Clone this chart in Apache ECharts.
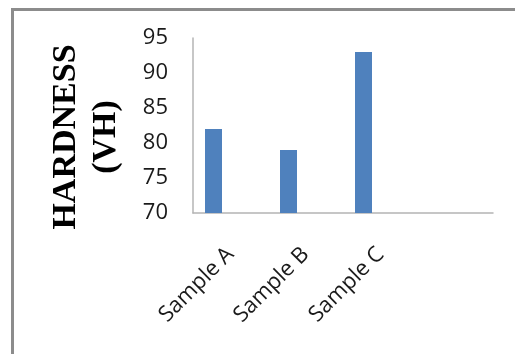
<!DOCTYPE html>
<html>
<head>
<meta charset="utf-8">
<script src="https://cdn.jsdelivr.net/npm/echarts@6/dist/echarts.min.js"></script>
<style>
  html, body { margin: 0; padding: 0; background: #ffffff; }
  #chart { width: 515px; height: 354px; }
</style>
</head>
<body>
<div id="chart"></div>
<script>
// Hardness measurements per sample (Vickers)
const categories = ['Sample A', 'Sample B', 'Sample C', ''];
const hardness = [82, 79, 93, null];
// Two further series slots in the cluster carry no values
const emptySeriesA = [null, null, null, null];
const emptySeriesB = [null, null, null, null];
const yTicks = { min: 70, max: 95, interval: 5 };

const chart = echarts.init(document.getElementById('chart'), null, { renderer: 'canvas' });

const barStyle = { color: '#4F81BD' };

chart.setOption({
  backgroundColor: '#ffffff',
  animation: false,
  grid: { left: 193, right: 22, top: 38, bottom: 141, containLabel: false },
  xAxis: {
    type: 'category',
    data: categories,
    axisLine: { show: true, lineStyle: { color: '#b4b4b4', width: 1.5 } },
    axisTick: { show: false },
    axisLabel: {
      rotate: 45,
      interval: 0,
      margin: 38,
      fontFamily: 'Open Sans',
      fontSize: 22,
      color: '#1a1a1a'
    }
  },
  yAxis: {
    type: 'value',
    min: yTicks.min,
    max: yTicks.max,
    interval: yTicks.interval,
    splitLine: { show: false },
    axisLine: { show: true, lineStyle: { color: '#b4b4b4', width: 1.5 } },
    axisTick: { show: false },
    axisLabel: {
      margin: 25,
      fontFamily: 'Open Sans',
      fontSize: 22,
      color: '#1a1a1a'
    }
  },
  series: [
    { type: 'bar', data: hardness, barWidth: 17, barGap: '0%', itemStyle: barStyle },
    { type: 'bar', data: emptySeriesA, barWidth: 17, barGap: '0%' },
    { type: 'bar', data: emptySeriesB, barWidth: 17, barGap: '0%' }
  ],
  graphic: [
    {
      type: 'rect',
      shape: { x: 12.5, y: 9.5, width: 520, height: 360 },
      style: { fill: 'none', stroke: '#8c8c8c', lineWidth: 3 },
      silent: true
    },
    {
      type: 'text',
      x: 86,
      y: 137,
      rotation: Math.PI / 2,
      style: {
        text: 'HARDNESS\n(VH)',
        fontFamily: 'Liberation Serif',
        fontWeight: 'bold',
        fontSize: 34,
        lineHeight: 40,
        fill: '#000000',
        align: 'center',
        verticalAlign: 'middle'
      }
    }
  ]
});
</script>
</body>
</html>
